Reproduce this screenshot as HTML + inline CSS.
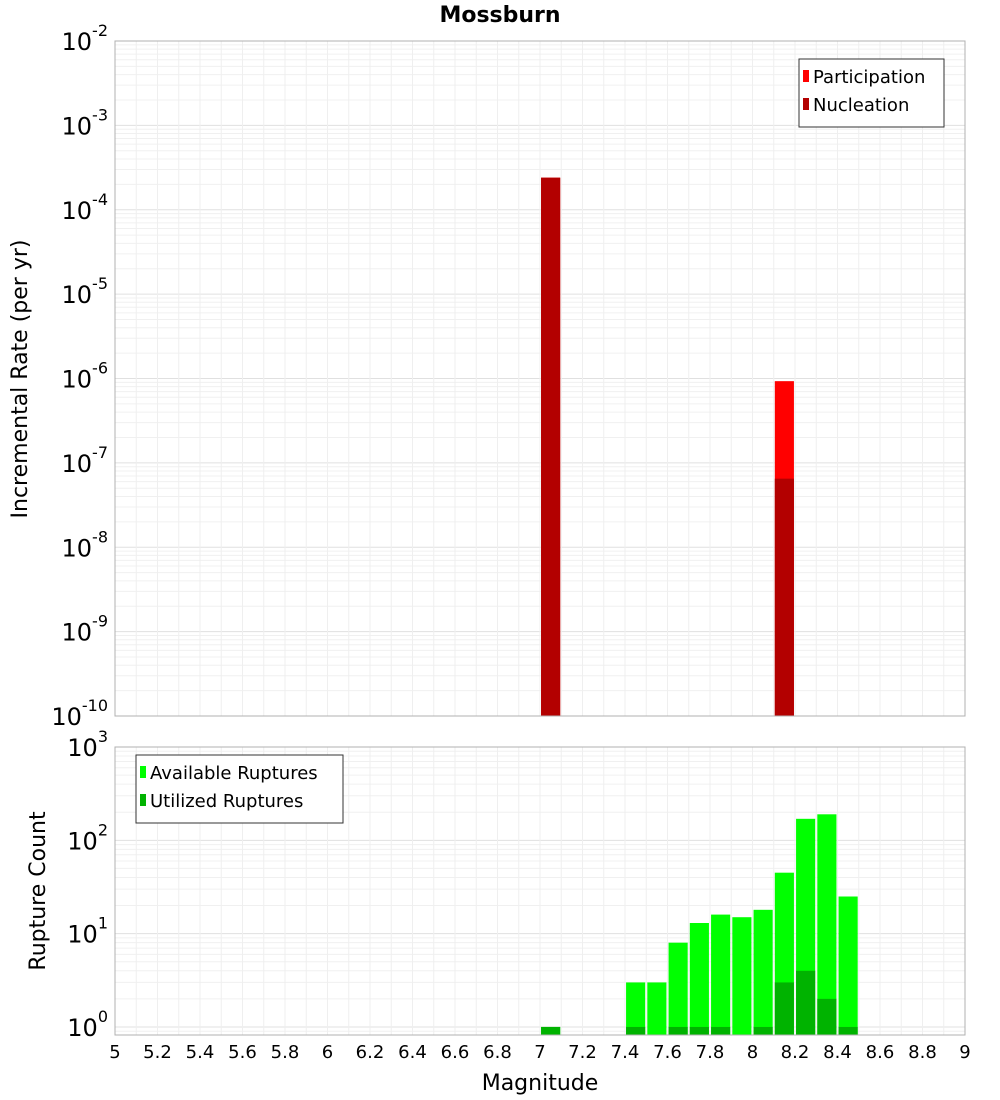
<!DOCTYPE html>
<html><head><meta charset="utf-8"><style>
body{margin:0;background:#fff;font-family:"Liberation Sans","DejaVu Sans",sans-serif}
svg{display:block}
</style></head><body>
<svg id="chart" width="1000" height="1100" xmlns="http://www.w3.org/2000/svg" font-family="DejaVu Sans, Liberation Sans, sans-serif">
<text x="500" y="22" text-anchor="middle" font-size="22" font-weight="bold">Mossburn</text>
<text transform="translate(27,379) rotate(-90)" text-anchor="middle" font-size="22">Incremental Rate (per yr)</text>
<text transform="translate(45,891) rotate(-90)" text-anchor="middle" font-size="22">Rupture Count</text>
<text x="540" y="1090" text-anchor="middle" font-size="22">Magnitude</text>
<g id="top"></g><g id="bot"></g><g id="xt"></g>
</svg>
<script>
const binCenters=[7.05,8.15];
const participation=[2.4e-4,9.3e-7];
const nucleation=[2.4e-4,6.5e-8];
const countBins=[7.05,7.45,7.55,7.65,7.75,7.85,7.95,8.05,8.15,8.25,8.35,8.45];
const available=[1,3,3,8,13,16,15,18,45,170,190,25];
const utilized=[1,1,0,1,1,1,0,1,3,4,2,1];
const xTicks=[5,5.2,5.4,5.6,5.8,6,6.2,6.4,6.6,6.8,7,7.2,7.4,7.6,7.8,8,8.2,8.4,8.6,8.8,9];
const NS="http://www.w3.org/2000/svg";
const X0=115,X1=965;
const xs=m=>X0+(m-5)/4*(X1-X0);
function mk(p,t,a){const e=document.createElementNS(NS,t);for(const k in a)e.setAttribute(k,a[k]);p.appendChild(e);return e;}
function panel(g,top,bot,dmin,dmax,name){
  const ys=v=>bot-(Math.log10(v)-dmin)/(dmax-dmin)*(bot-top);
  // grid
  for(let d=Math.floor(dmin);d<dmax;d++){for(let k=1;k<10;k++){const v=k*Math.pow(10,d);const y=ys(v);if(y<top||y>bot)continue;
    const l=mk(g,'line',{x1:X0,x2:X1,y1:y,y2:y,stroke:k==1?'#e0e0e0':'#f0f0f0','stroke-width':1});
    }}
  for(let m=5;m<=9.001;m+=0.1){const x=xs(m);const l=mk(g,'line',{x1:x,x2:x,y1:top,y2:bot,stroke:'#efefef','stroke-width':1});
    }
  for(let d=Math.ceil(dmin);d<=dmax;d++){const y=ys(Math.pow(10,d));
    const t=mk(g,'text',{x:108,y:y+9,'text-anchor':'end','font-size':24});
    
    t.appendChild(document.createTextNode('10'));const s=mk(t,'tspan',{dy:-14,'font-size':16});s.textContent=String(d);}
  return ys;
}
const gt=document.getElementById('top'),gb=document.getElementById('bot');
const yt=panel(gt,41,716,-10,-2,'top');
const bw=0.09;
binCenters.forEach((c,i)=>{
  let y=yt(participation[i]);let r=mk(gt,'rect',{x:xs(c-bw/2),y:y,width:xs(c+bw/2)-xs(c-bw/2),height:716-y,fill:'#ff0000'});
  
  y=yt(nucleation[i]);r=mk(gt,'rect',{x:xs(c-bw/2),y:y,width:xs(c+bw/2)-xs(c-bw/2),height:716-y,fill:'#b30000'});
  
});
let fr=mk(gt,'rect',{x:X0,y:41,width:X1-X0,height:675,fill:'none',stroke:'#b0b0b0'});

const dminB=Math.log10(0.82);
const yb=panel(gb,747,1035,dminB,3,'bottom');
countBins.forEach((c,i)=>{
  let y=yb(available[i]);let r=mk(gb,'rect',{x:xs(c-bw/2),y:y,width:xs(c+bw/2)-xs(c-bw/2),height:1035-y,fill:'#00ff00'});
  
  if(utilized[i]>0){y=yb(utilized[i]);r=mk(gb,'rect',{x:xs(c-bw/2),y:y,width:xs(c+bw/2)-xs(c-bw/2),height:1035-y,fill:'#00b300'});
  }
});
fr=mk(gb,'rect',{x:X0,y:747,width:X1-X0,height:288,fill:'none',stroke:'#b0b0b0'});

const gx=document.getElementById('xt');
xTicks.forEach(m=>{const t=mk(gx,'text',{x:xs(m),y:1058,'text-anchor':'middle','font-size':18});t.textContent=String(m);
  });
function legend(g,x,y,w,items,name){
  const r=mk(g,'rect',{x:x,y:y,width:w,height:20+28*items.length-8,fill:'#fff',stroke:'#333'});
  
  items.forEach((it,i)=>{const cy=y+18+28*i;
    const s=mk(g,'rect',{x:x+4,y:cy-7,width:6,height:12,fill:it[1]});
    
    const t=mk(g,'text',{x:x+14,y:cy+6,'font-size':18});t.textContent=it[0];
    });
}
legend(gt,799,59,145,[['Participation','#ff0000'],['Nucleation','#b30000']],'top-legend');
legend(gb,136,755,207,[['Available Ruptures','#00ff00'],['Utilized Ruptures','#00b300']],'bottom-legend');
</script>
</body></html>
